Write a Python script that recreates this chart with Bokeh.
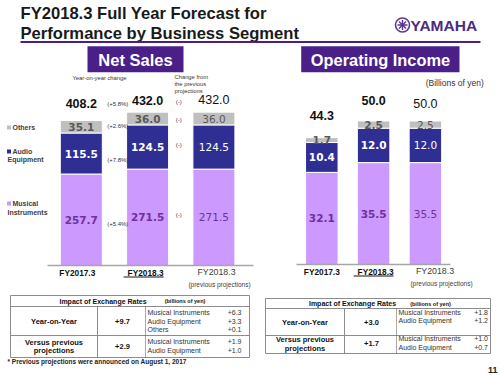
import numpy as np
from bokeh.plotting import figure
from bokeh.models import Range1d, ColumnDataSource
from bokeh.core.properties import value, field
from bokeh.embed import file_html
from bokeh.resources import INLINE

# ---------------- data ----------------
categories = ["FY2017.3", "FY2018.3", "FY2018.3"]
category_note = "(previous  projections)"
legend_lines = [["Others"], ["Audio", "Equipment"], ["Musical", "Instruments"]]

sales_musical = [257.7, 271.5, 271.5]
sales_audio = [115.5, 124.5, 124.5]
sales_others = [35.1, 36.0, 36.0]
sales_total = [408.2, 432.0, 432.0]

income_musical = [32.1, 35.5, 35.5]
income_audio = [10.4, 12.0, 12.0]
income_others = [1.7, 2.5, 2.5]
income_total = [44.3, 50.0, 50.0]

sales_yoy_total = "(+5.8%)"
sales_yoy_segments = ["(+5.4%)", "(+7.8%)", "(+2.6%)"]   # musical, audio, others
sales_prev_total = "(-)"
sales_prev_segments = ["(-)", "(-)", "(-)"]

fx_items_3 = ["Musical Instruments", "Audio Equipment", "Others"]
fx_items_2 = ["Musical Instruments", "Audio Equipment"]
fx_sales_yoy_total = "+9.7"
fx_sales_yoy_vals = ["+6.3", "+3.3", "+0.1"]
fx_sales_prev_total = "+2.9"
fx_sales_prev_vals = ["+1.9", "+1.0"]
fx_income_yoy_total = "+3.0"
fx_income_yoy_vals = ["+1.8", "+1.2"]
fx_income_prev_total = "+1.7"
fx_income_prev_vals = ["+1.0", "+0.7"]

# ---------------- styles ----------------
W, H = 500, 375
PURPLE = "#4A2088"
LAV = "#CC99FF"
NAVY = "#2F2F93"
GRAY = "#BFBFBF"
LABEL_PURPLE = "#7030A0"
LABEL_GRAY = "#595959"
TBL = "#8C8C8C"
SANS = "Liberation Sans"
VERD = "DejaVu Sans"

p = figure(width=W, height=H, x_range=Range1d(0, W), y_range=Range1d(H, 0),
           output_backend="svg", toolbar_location=None,
           x_axis_location=None, y_axis_location=None, min_border=0)
p.grid.visible = False
p.outline_line_color = None
p.background_fill_color = "white"
p.border_fill_color = "white"

# chart geometry (pixel anchors -> data scales)
GL = dict(x0=80.8, dx=66.3, base=265.0, k=0.355, bar=42.0)
GR = dict(x0=321.3, dx=51.8, base=264.0, k=2.87, bar=32.5)
p.extra_x_ranges = {
    "lx": Range1d(-GL["x0"] / GL["dx"], (W - GL["x0"]) / GL["dx"]),
    "rx": Range1d(-GR["x0"] / GR["dx"], (W - GR["x0"]) / GR["dx"]),
}
p.extra_y_ranges = {
    "ly": Range1d((GL["base"] - H) / GL["k"], GL["base"] / GL["k"]),
    "ry": Range1d((GR["base"] - H) / GR["k"], GR["base"] / GR["k"]),
}


def _aslist(v):
    return list(v) if isinstance(v, (list, tuple, np.ndarray)) else [v]


def T(x, y, s, size, bold=False, color="#000000", align="left", baseline="middle",
      font=SANS, xr="default", yr="default"):
    xs, ys, ss = _aslist(x), _aslist(y), _aslist(s)
    n = max(len(xs), len(ys), len(ss))
    xs = xs * n if len(xs) == 1 else xs
    ys = ys * n if len(ys) == 1 else ys
    ss = ss * n if len(ss) == 1 else ss
    p.text(x=xs, y=ys, text=ss, text_font=value(font),
           text_font_size=value(f"{size}px"),
           text_font_style="bold" if bold else "normal",
           text_color=color, text_align=align, text_baseline=baseline,
           x_range_name=xr, y_range_name=yr)


def draw_chart(g, xr, yr, mus, aud, oth, tot, total_dy, cat_dx, cat_y, note_dx, note_y,
               ul, axis_px):
    idx = np.arange(len(categories), dtype=float)
    mus, aud, oth, tot = map(np.array, (mus, aud, oth, tot))
    b1 = mus
    b2 = mus + aud
    t3 = b2 + oth
    w = g["bar"] / g["dx"]
    for bottom, top, color in [(np.zeros(3), b1, LAV), (b1, b2, NAVY), (b2, t3, GRAY)]:
        p.vbar(x=idx, bottom=bottom, top=top, width=w, fill_color=color,
               line_color="white", line_width=1, x_range_name=xr, y_range_name=yr)
    styles = ["bold", "bold", "normal"]
    for vals, centers, color in [(mus, mus / 2, LABEL_PURPLE),
                                 (aud, b1 + aud / 2, "white"),
                                 (oth, b2 + oth / 2, LABEL_GRAY)]:
        src = ColumnDataSource(dict(x=idx, y=centers, t=[f"{v:.1f}" for v in vals], s=styles))
        p.text(x="x", y="y", text="t", source=src, text_font_style=field("s"),
               text_font=value(VERD), text_font_size=value("10.5px"), text_color=color,
               text_align="center", text_baseline="middle",
               x_range_name=xr, y_range_name=yr)
    src = ColumnDataSource(dict(x=idx, y=t3 + np.array(total_dy) / g["k"],
                                t=[f"{v:.1f}" for v in tot], s=styles))
    p.text(x="x", y="y", text="t", source=src, text_font_style=field("s"),
           text_font=value(SANS), text_font_size=value("12.5px"), text_color="#111111",
           text_align="center", text_baseline="middle", x_range_name=xr, y_range_name=yr)
    # baseline
    p.segment(x0=[(axis_px[0] - g["x0"]) / g["dx"]], y0=[0], x1=[(axis_px[1] - g["x0"]) / g["dx"]],
              y1=[0], line_color="#A6A6A6", line_width=1.5, x_range_name=xr, y_range_name=yr)
    # category labels
    cy = (g["base"] - cat_y) / g["k"]
    for i, c in enumerate(categories):
        cx = i + cat_dx[i] / g["dx"]
        if i < 2:
            T(cx, cy, c, 8.3, bold=True, color="#111111", align="center", xr=xr, yr=yr)
        else:
            T(cx, cy + 1 / g["k"], c, 8.8, color="#404040", align="center", xr=xr, yr=yr)
    T(2 + note_dx / g["dx"], (g["base"] - note_y) / g["k"], category_note, 6.5,
      color="#404040", align="center", xr=xr, yr=yr)
    ux = 1 + cat_dx[1] / g["dx"]
    uy = (g["base"] - ul) / g["k"]
    p.segment(x0=[ux - 22 / g["dx"]], y0=[uy], x1=[ux + 18 / g["dx"]], y1=[uy],
              line_color="#111111", line_width=1, x_range_name=xr, y_range_name=yr)
    return idx, b1, b2, t3


# ---------------- title & header ----------------
T(20, 13, "FY2018.3 Full Year Forecast for", 16.6, bold=True, color="#1A1A1A")
T(20, 33, "Performance by Business Segment", 16.6, bold=True, color="#1A1A1A")
p.segment(x0=[20], y0=[41.5], x1=[480], y1=[41.5], line_color=PURPLE, line_width=2)

# logo
p.scatter(x=[402], y=[24.5], marker="circle", size=14, fill_color=None, line_color="#5B3A93", line_width=1.6)
p.scatter(x=[402], y=[24.5], marker="asterisk", size=10, line_color="#5B3A93", line_width=1.4)
T(410, 24.5, "YAMAHA", 15.5, bold=True, color="#4C2A85")

# section boxes
p.quad(left=[87, 300.7], right=[183, 459], top=[45.7, 45.7], bottom=[71.7, 71.7],
       fill_color=PURPLE, line_color=None)
T(135, 59.5, "Net Sales", 16.5, bold=True, color="white", align="center")
T(380, 59.5, "Operating Income", 16.4, bold=True, color="white", align="center")

T(99, 77.3, "Year-on-year change", 5.8, color="#333333", align="center")
T(174, [76, 83, 90], ["Change  from", "the previous", "projections"], 5.8, color="#333333")
T(488, 82, "(Billions  of  yen)", 8.5, color="#333333", align="right")

# ---------------- charts ----------------
idx, b1, b2, t3 = draw_chart(GL, "lx", "ly", sales_musical, sales_audio, sales_others, sales_total,
                             [17, 12, 13], [-4, -2, 2.6], 272, 6.5, 283.5, 276.5, (47, 253))
draw_chart(GR, "rx", "ry", income_musical, income_audio, income_others, income_total,
           [22, 20.5, 17.5], [0, 2, 9.6], 271, 17, 283, 275.5, (296, 450))

# change annotations (left chart)
k = GL["k"]
yoy_x = 0.55
seg_centers0 = [b1[0] / 2, b1[0] + (b2[0] - b1[0]) / 2, b2[0] + (t3[0] - b2[0]) / 2]
seg_shift0 = [-4, -6, 1]   # px offsets
T(yoy_x, t3[0] + 17 / k, sales_yoy_total, 6, color="#333333", align="center", xr="lx", yr="ly")
T(yoy_x, [c + s / k for c, s in zip(seg_centers0, seg_shift0)], sales_yoy_segments, 6,
  color="#333333", align="center", xr="lx", yr="ly")
prev_x = 1.47
seg_centers1 = [b1[1] / 2, b1[1] + (b2[1] - b1[1]) / 2, b2[1] + (t3[1] - b2[1]) / 2]
seg_shift1 = [2, 2, -1]
T(prev_x, t3[1] + 10 / k, sales_prev_total, 6, color="#333333", align="center", xr="lx", yr="ly")
T(prev_x, [c + s / k for c, s in zip(seg_centers1, seg_shift1)], sales_prev_segments, 6,
  color="#333333", align="center", xr="lx", yr="ly")

# legend
for (sq_y, lines_y), lines, col in zip([(127, [127]), (151, [151, 159]), (203, [203, 212])],
                                       legend_lines, [GRAY, NAVY, LAV]):
    p.scatter(x=[8.5], y=[sq_y], marker="square", size=4, fill_color=col, line_color=None)
    for j, (ly_, txt) in enumerate(zip(lines_y, lines)):
        T(12 if j == 0 else 7, ly_, txt, 7, bold=True, color="#404040")


# ---------------- tables ----------------
def table(x0, x1, y0, yh, ym, y1, xc1, xc2, head_c, unit_c, yoy_total, items_yoy, vals_yoy,
          prev_total, items_prev, vals_prev, yoy_ys, prev_ys, lab_ys_yoy, lab_ys_prev, val_right):
    p.quad(left=[x0], right=[x1], top=[y0], bottom=[y1], fill_color=None, line_color=TBL, line_width=1)
    p.segment(x0=[x0, x0, xc1], y0=[yh, ym, yh], x1=[x1, x1, xc1], y1=[yh, ym, y1],
              line_color=TBL, line_width=1)
    p.segment(x0=[xc2], y0=[yh], x1=[xc2], y1=[y1], line_color="#555555", line_width=1, line_dash="1 1")
    hy = (y0 + yh) / 2
    T(head_c, hy, "Impact of Exchange Rates", 7, bold=True, color="#111111", align="center")
    T(unit_c, hy, "(billions of yen)", 5.5, bold=True, color="#111111", align="center")
    c1 = (x0 + xc1) / 2
    c2 = (xc1 + xc2) / 2 + 1
    T(c1, yoy_ys[0], "Year-on-Year", 7.5, bold=True, color="#111111", align="center")
    T(c2, yoy_ys[0], yoy_total, 7.5, bold=True, color="#111111", align="center")
    T(c1, prev_ys, ["Versus previous", "projections"], 7.5, bold=True, color="#111111", align="center")
    T(c2, sum(prev_ys) / 2, prev_total, 7.5, bold=True, color="#111111", align="center")
    T(xc2 + 2, lab_ys_yoy, items_yoy, 7, color="#333333")
    T(val_right, lab_ys_yoy, vals_yoy, 7, color="#333333", align="right")
    T(xc2 + 2, lab_ys_prev, items_prev, 7, color="#333333")
    T(val_right, lab_ys_prev, vals_prev, 7, color="#333333", align="right")


table(10, 249, 295, 306, 335, 357, 97, 145, 102.5, 184.5,
      fx_sales_yoy_total, fx_items_3, fx_sales_yoy_vals,
      fx_sales_prev_total, fx_items_2, fx_sales_prev_vals,
      [321], [342, 350], [312, 320.5, 328.5], [341, 349.5], 241)
table(265, 490, 298, 308, 335, 353, 344, 396, 352, 430,
      fx_income_yoy_total, fx_items_2, fx_income_yoy_vals,
      fx_income_prev_total, fx_items_2, fx_income_prev_vals,
      [322], [338.5, 348], [312, 320], [338, 347], 487.5)

T(7, 361, "* Previous projections  were announced on August  1, 2017", 6.5, bold=True, color="#222222")
T(497, 369.5, "11", 9, bold=True, color="#222222", align="right")

open("out.html", "w").write(file_html(p, INLINE))
